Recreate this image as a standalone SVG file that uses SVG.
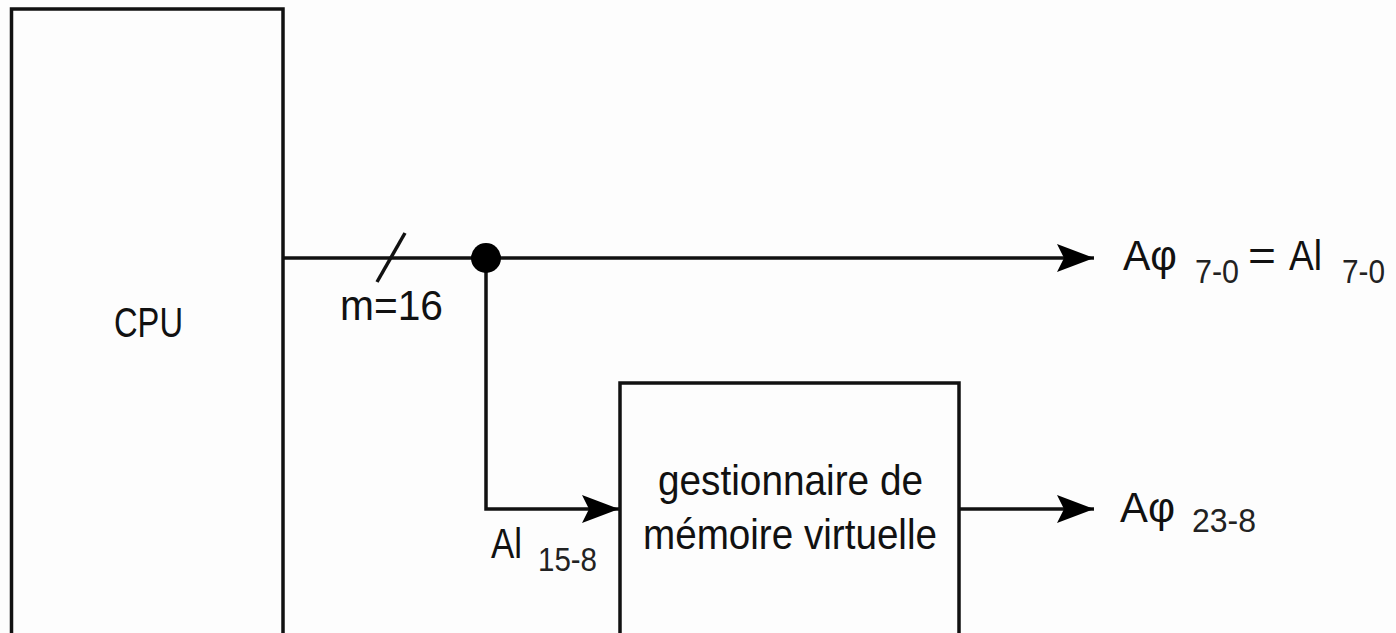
<svg xmlns="http://www.w3.org/2000/svg" width="1396" height="633" viewBox="0 0 1396 633">
<style>
.box{fill:#fdfdfd;stroke:#111;stroke-width:3.5}
.ln{fill:none;stroke:#111;stroke-width:3.5}
.t{font-family:"Liberation Sans",Arial,sans-serif;font-size:43px;fill:#111}
.s{font-family:"Liberation Sans",Arial,sans-serif;font-size:34px;fill:#222}
</style>
<defs>
<marker id="ah" viewBox="0 0 37 28" refX="37" refY="14" markerWidth="37" markerHeight="28" markerUnits="userSpaceOnUse" orient="auto">
<polygon points="37,14 0,0 7,14 0,28" fill="#000"/>
</marker>
</defs>
<rect width="1396" height="633" fill="#fdfdfd"/>
<g id="connectors">
<line class="ln" x1="283" y1="258" x2="1094" y2="258" marker-end="url(#ah)"/>
<line class="ln" x1="377" y1="282" x2="405" y2="233"/>
<polyline class="ln" points="486,258 486,509 619,509" marker-end="url(#ah)"/>
<line class="ln" x1="959" y1="509" x2="1094" y2="509" marker-end="url(#ah)"/>
<circle cx="486" cy="258" r="15" fill="#000"/>
<text class="t" x="340" y="320" textLength="103" lengthAdjust="spacingAndGlyphs">m=16</text>
<text class="t" x="491" y="558" textLength="31" lengthAdjust="spacingAndGlyphs">Al</text>
<text class="s" x="538" y="571" textLength="59" lengthAdjust="spacingAndGlyphs">15-8</text>
<text class="t" x="1123" y="270" textLength="54" lengthAdjust="spacingAndGlyphs">Aφ</text>
<text class="s" x="1195" y="283" textLength="44" lengthAdjust="spacingAndGlyphs">7-0</text>
<text class="t" x="1248" y="270" textLength="28" lengthAdjust="spacingAndGlyphs">=</text>
<text class="t" x="1289" y="270" textLength="33" lengthAdjust="spacingAndGlyphs">Al</text>
<text class="s" x="1342" y="283" textLength="43" lengthAdjust="spacingAndGlyphs">7-0</text>
<text class="t" x="1120" y="522" textLength="55" lengthAdjust="spacingAndGlyphs">Aφ</text>
<text class="s" x="1192" y="532" textLength="64" lengthAdjust="spacingAndGlyphs">23-8</text>
</g>
<g id="cpu">
<rect class="box" x="11.5" y="9" width="271.5" height="640"/>
<text class="t" x="114" y="337" textLength="69" lengthAdjust="spacingAndGlyphs">CPU</text>
</g>
<g id="gestionnaire">
<rect class="box" x="620" y="383" width="339" height="270"/>
<text class="t" x="658" y="495" textLength="265" lengthAdjust="spacingAndGlyphs">gestionnaire de</text>
<text class="t" x="643" y="549" textLength="294" lengthAdjust="spacingAndGlyphs">mémoire virtuelle</text>
</g>
</svg>
